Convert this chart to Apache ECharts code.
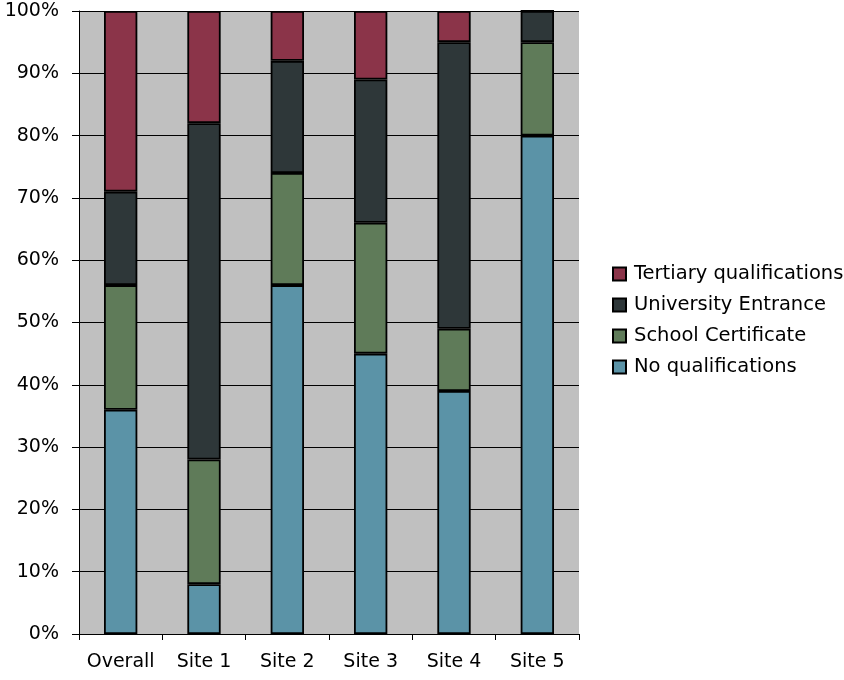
<!DOCTYPE html>
<html>
<head>
<meta charset="utf-8">
<script src="https://cdn.jsdelivr.net/npm/echarts@6/dist/echarts.min.js"></script>
<style>
  html, body { margin: 0; padding: 0; background: #ffffff; }
  #chart { width: 844px; height: 680px; }
</style>
</head>
<body>
<div id="chart"></div>
<script>
// Share of people by highest qualification, per site (percent)
const categories = ['Overall', 'Site 1', 'Site 2', 'Site 3', 'Site 4', 'Site 5'];
const noQualifications = [36, 8, 56, 45, 39, 80];
const schoolCertificate = [20, 20, 18, 21, 10, 15];
const universityEntrance = [15, 54, 18, 23, 46, 5];
const tertiaryQualifications = [29, 18, 8, 11, 5, 0];
const yTickLabels = ['0%', '10%', '20%', '30%', '40%', '50%', '60%', '70%', '80%', '90%', '100%'];

const FONT = '"DejaVu Sans", "Liberation Sans", Arial, sans-serif';

function stackSeries(name, values, color) {
  return {
    name: name,
    type: 'bar',
    stack: 'total',
    data: values,
    barWidth: '40%',
    itemStyle: { color: color, borderColor: '#000000', borderWidth: 1.8 },
    emphasis: { disabled: true }
  };
}

const chart = echarts.init(document.getElementById('chart'));
chart.setOption({
  animation: false,
  backgroundColor: '#ffffff',
  grid: {
    left: 79, top: 11, width: 500, height: 623,
    show: true, backgroundColor: '#C0C0C0', borderWidth: 0
  },
  legend: {
    orient: 'vertical',
    left: 607,
    top: 259,
    icon: 'rect',
    itemWidth: 13,
    itemHeight: 13,
    itemGap: 11,
    selectedMode: false,
    data: ['Tertiary qualifications', 'University Entrance', 'School Certificate', 'No qualifications'],
    textStyle: { fontFamily: FONT, fontSize: 19.5, color: '#000000', lineHeight: 20, padding: [0, 0, 0, 3] }
  },
  xAxis: {
    type: 'category',
    data: categories,
    axisLine: { lineStyle: { color: '#000000', width: 1 } },
    axisTick: { show: true, interval: 0, length: 6, alignWithLabel: false, lineStyle: { color: '#000000' } },
    axisLabel: { interval: 0, hideOverlap: false, fontFamily: FONT, fontSize: 19, color: '#000000', margin: 19 }
  },
  yAxis: {
    type: 'value',
    min: 0,
    max: 100,
    interval: 10,
    axisLine: { show: true, lineStyle: { color: '#000000', width: 1 } },
    axisTick: { show: true, length: 7, lineStyle: { color: '#000000' } },
    splitLine: { show: true, lineStyle: { color: '#000000', width: 1 } },
    axisLabel: {
      fontFamily: FONT, fontSize: 19, color: '#000000', margin: 20,
      formatter: function (v) { return yTickLabels[Math.round(v / 10)]; }
    }
  },
  series: [
    stackSeries('No qualifications', noQualifications, '#5B93A7'),
    stackSeries('School Certificate', schoolCertificate, '#5F7B59'),
    stackSeries('University Entrance', universityEntrance, '#2E3739'),
    stackSeries('Tertiary qualifications', tertiaryQualifications, '#8B3449')
  ]
});
</script>
</body>
</html>
